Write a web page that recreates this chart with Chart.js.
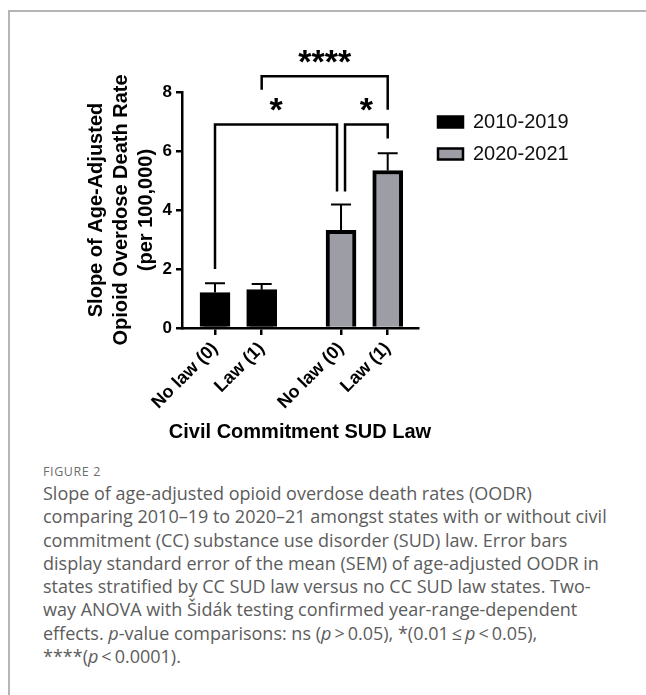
<!DOCTYPE html>
<html>
<head>
<meta charset="utf-8">
<script src="https://cdn.jsdelivr.net/npm/chart.js@4.4.0/dist/chart.umd.min.js"></script>
<style>
  html, body { margin: 0; padding: 0; background: #fff; }
  body { width: 646px; height: 695px; position: relative; overflow: hidden; }
  .frame {
    position: absolute; left: 8px; top: 10px; width: 700px; height: 700px;
    border-top: 2px solid #b5b5b5; border-left: 2px solid #b5b5b5;
  }
  #chart { position: absolute; left: 0; top: 0; }
  .fig-label {
    position: absolute; left: 43px; top: 464px;
    font: 12.5px "Open Sans", sans-serif; letter-spacing: 0.6px; color: #6d6d6d;
    line-height: 16px;
  }
  .caption {
    position: absolute; left: 43px; top: 482px;
    font: 18px "Open Sans", sans-serif; color: #5c5c5c; line-height: 23.3px;
    white-space: nowrap;
  }
</style>
</head>
<body>
<div class="frame"></div>
<canvas id="chart" width="646" height="450"></canvas>
<div class="fig-label">FIGURE 2</div>
<div class="caption">
  Slope of age-adjusted opioid overdose death rates (OODR)<br>
  comparing 2010–19 to 2020–21 amongst states with or without civil<br>
  commitment (CC) substance use disorder (SUD) law. Error bars<br>
  display standard error of the mean (SEM) of age-adjusted OODR in<br>
  states stratified by CC SUD law versus no CC SUD law states. Two-<br>
  way ANOVA with Šidák testing confirmed year-range-dependent<br>
  effects. <i>p</i>-value comparisons: ns (<i>p</i>&thinsp;&gt;&thinsp;0.05), *(0.01&thinsp;≤&thinsp;<i>p</i>&thinsp;&lt;&thinsp;0.05),<br>
  ****(<i>p</i>&thinsp;&lt;&thinsp;0.0001).
</div>
<script>
// ---- data ----
const categories = ["No law (0)", "Law (1)", "No law (0)", "Law (1)"];
const xPositions = [1, 2, 3.7, 4.7];
const seriesLabels = ["2010-2019", "2020-2021"];
const means2010 = [1.2, 1.3];
const sem2010 = [0.32, 0.19];
const means2020 = [3.31, 5.34];
const sem2020 = [0.88, 0.58];
const yTicks = [0, 2, 4, 6, 8];
const xTitle = "Civil Commitment SUD Law";

// significance brackets: bar indexes, leg ends and top in data units
const brackets = [
  { from: 0, to: 2, leftEnd: 2.0, rightEnd: 4.63, top: 6.9, label: "*" },
  { from: 2, to: 3, leftEnd: 4.63, rightEnd: 6.42, top: 6.9, label: "*" },
  { from: 1, to: 3, leftEnd: 8.08, rightEnd: 7.4, top: 8.53, label: "****" },
];

const FONT = '"Liberation Sans", Arial, sans-serif';
Chart.defaults.font.family = FONT;
Chart.defaults.color = "#000";

const errorBars = {
  id: "errorBars",
  afterDatasetsDraw(chart) {
    const { ctx, scales } = chart;
    const sems = [sem2010, sem2020];
    const means = [means2010, means2020];
    ctx.save();
    ctx.strokeStyle = "#000";
    ctx.lineWidth = 2;
    chart.data.datasets.forEach((ds, d) => {
      chart.getDatasetMeta(d).data.forEach((bar, i) => {
        const yTop = scales.y.getPixelForValue(means[d][i] + sems[d][i]);
        ctx.beginPath();
        ctx.moveTo(bar.x, bar.y);
        ctx.lineTo(bar.x, yTop);
        ctx.moveTo(bar.x - 10, yTop);
        ctx.lineTo(bar.x + 10, yTop);
        ctx.stroke();
      });
    });
    ctx.restore();
  },
};

const sigBrackets = {
  id: "sigBrackets",
  afterDraw(chart) {
    const { ctx, scales } = chart;
    const gap = 4;
    ctx.save();
    ctx.strokeStyle = "#000";
    ctx.fillStyle = "#000";
    ctx.lineWidth = 2.5;
    ctx.font = "bold 34px " + FONT;
    ctx.textAlign = "center";
    ctx.textBaseline = "alphabetic";
    brackets.forEach((b) => {
      let x1 = scales.x.getPixelForValue(xPositions[b.from]);
      let x2 = scales.x.getPixelForValue(xPositions[b.to]);
      if (brackets.some((o) => o !== b && o.to === b.from)) x1 += gap;
      if (brackets.some((o) => o !== b && o.from === b.to)) x2 -= gap;
      const yT = scales.y.getPixelForValue(b.top);
      ctx.beginPath();
      ctx.moveTo(x1, scales.y.getPixelForValue(b.leftEnd));
      ctx.lineTo(x1, yT);
      ctx.lineTo(x2, yT);
      ctx.lineTo(x2, scales.y.getPixelForValue(b.rightEnd));
      ctx.stroke();
      ctx.fillText(b.label, (x1 + x2) / 2, yT - 3);
    });
    ctx.restore();
  },
};

// x axis title is wider than the plot, so it is drawn here (no squeezing)
const xAxisTitle = {
  id: "xAxisTitle",
  afterDraw(chart) {
    const { ctx, chartArea } = chart;
    ctx.save();
    ctx.fillStyle = "#000";
    ctx.font = "bold 20px " + FONT;
    ctx.textAlign = "center";
    ctx.textBaseline = "middle";
    ctx.fillText(xTitle, (chartArea.left + chartArea.right) / 2, chartArea.bottom + 104);
    ctx.restore();
  },
};

// legend sits to the right of the plot, outside the axes
const legendPlace = {
  id: "legendPlace",
  afterLayout(chart) {
    const lg = chart.legend;
    lg.left = 426;
    lg.right = 646;
    lg.top = 100;
    lg.bottom = 200;
    lg.width = lg.right - lg.left;
    lg.height = lg.bottom - lg.top;
  },
};

new Chart(document.getElementById("chart"), {
  type: "bar",
  data: {
    datasets: [
      {
        label: seriesLabels[0],
        data: means2010.map((v, i) => ({ x: xPositions[i], y: v })),
        backgroundColor: "#000",
        borderColor: "#000",
        borderWidth: 4,
      },
      {
        label: seriesLabels[1],
        data: means2020.map((v, i) => ({ x: xPositions[i + 2], y: v })),
        backgroundColor: "#9d9da5",
        borderColor: "#000",
        borderWidth: 4,
      },
    ],
  },
  options: {
    responsive: false,
    animation: false,
    devicePixelRatio: 1,
    grouped: false,
    barThickness: 30,
    layout: { padding: { left: 83.5, top: 92, right: 228, bottom: 0 } },
    scales: {
      x: {
        type: "linear",
        offset: false,
        min: 0.293,
        max: 5.349,
        afterBuildTicks: (scale) => {
          scale.ticks = xPositions.map((v) => ({ value: v }));
        },
        afterFit: (scale) => {
          scale.height = 122;
        },
        ticks: {
          autoSkip: false,
          maxRotation: 45,
          minRotation: 45,
          padding: 3,
          color: "#000",
          font: { size: 18, weight: "bold" },
          callback: (value, index) => categories[index],
        },
        grid: {
          offset: false,
          drawOnChartArea: false,
          drawTicks: true,
          tickLength: 7,
          color: "#000",
          lineWidth: 2.5,
        },
        border: { display: true, color: "#000", width: 2.5 },
        title: { display: false },
      },
      y: {
        min: 0,
        max: 8,
        afterBuildTicks: (scale) => {
          scale.ticks = yTicks.map((v) => ({ value: v }));
        },
        afterFit: (scale) => {
          scale.width = 98.5;
        },
        ticks: {
          padding: 4,
          color: "#000",
          font: { size: 17, weight: "bold" },
        },
        grid: {
          drawOnChartArea: false,
          drawTicks: true,
          tickLength: 6,
          color: "#000",
          lineWidth: 2.5,
        },
        border: { display: true, color: "#000", width: 2.5 },
        title: {
          display: true,
          text: ["Slope of Age-Adjusted", "Opioid Overdose Death Rate", "(per 100,000)"],
          color: "#000",
          font: { size: 20, weight: "bold", lineHeight: "25px" },
          padding: { top: 0, bottom: 0 },
        },
      },
    },
    plugins: {
      tooltip: { enabled: false },
      legend: {
        position: "chartArea",
        align: "start",
        labels: {
          boxWidth: 25,
          boxHeight: 11,
          padding: 12,
          color: "#111",
          font: { size: 20 },
          generateLabels: (chart) =>
            Chart.defaults.plugins.legend.labels
              .generateLabels(chart)
              .map((l) => ({ ...l, lineWidth: 2.5 })),
        },
      },
    },
  },
  plugins: [errorBars, sigBrackets, xAxisTitle, legendPlace],
});
</script>
</body>
</html>
